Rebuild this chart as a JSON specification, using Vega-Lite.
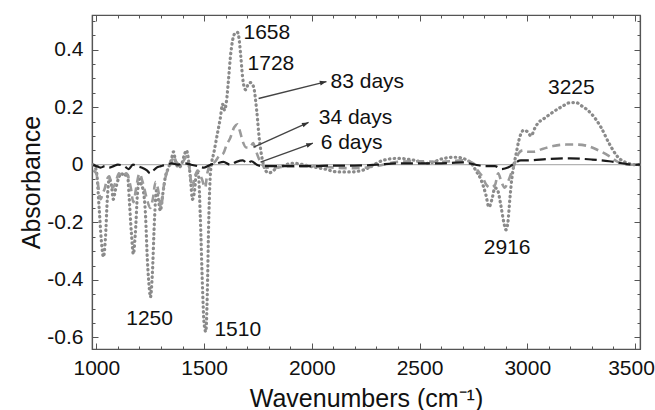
{
  "$schema": "https://vega.github.io/schema/vega-lite/v6.json",
  "width": 548,
  "height": 334,
  "autosize": {"type": "none"},
  "padding": {"left": 92, "top": 15, "right": 15, "bottom": 61},
  "background": "white",
  "config": {
    "view": {"stroke": "#555", "strokeWidth": 1.2},
    "axis": {
      "grid": false,
      "domainColor": "#555",
      "domainWidth": 1.2,
      "tickColor": "#555",
      "tickWidth": 1,
      "labelFont": "Liberation Sans",
      "labelFontSize": 21,
      "labelColor": "#111",
      "titleFont": "Liberation Sans",
      "titleFontSize": 25,
      "titleFontWeight": "normal",
      "titleColor": "#111"
    },
    "text": {"font": "Liberation Sans", "fontSize": 21, "color": "#111"}
  },
  "resolve": {"axis": {"x": "independent", "y": "independent"}},
  "datasets": {
    "spectra": [
      {"s":"83","wn":986,"a":0},{"s":"83","wn":1000,"a":-0.02},{"s":"83","wn":1014,"a":-0.16},{"s":"83","wn":1023,"a":-0.26},{"s":"83","wn":1033,"a":-0.32},{"s":"83","wn":1042,"a":-0.26},{"s":"83","wn":1051,"a":-0.12},{"s":"83","wn":1060,"a":-0.05},{"s":"83","wn":1070,"a":-0.07},{"s":"83","wn":1079,"a":-0.12},{"s":"83","wn":1088,"a":-0.09},{"s":"83","wn":1102,"a":-0.05},{"s":"83","wn":1116,"a":-0.03},{"s":"83","wn":1130,"a":-0.04},{"s":"83","wn":1144,"a":-0.03},{"s":"83","wn":1153,"a":-0.12},{"s":"83","wn":1163,"a":-0.24},{"s":"83","wn":1172,"a":-0.31},{"s":"83","wn":1181,"a":-0.24},{"s":"83","wn":1191,"a":-0.10},{"s":"83","wn":1200,"a":-0.05},{"s":"83","wn":1209,"a":-0.07},{"s":"83","wn":1218,"a":-0.09},{"s":"83","wn":1228,"a":-0.17},{"s":"83","wn":1237,"a":-0.33},{"s":"83","wn":1246,"a":-0.43},{"s":"83","wn":1251,"a":-0.46},{"s":"83","wn":1260,"a":-0.38},{"s":"83","wn":1270,"a":-0.19},{"s":"83","wn":1279,"a":-0.09},{"s":"83","wn":1288,"a":-0.12},{"s":"83","wn":1297,"a":-0.16},{"s":"83","wn":1307,"a":-0.11},{"s":"83","wn":1321,"a":-0.04},{"s":"83","wn":1335,"a":-0.01},{"s":"83","wn":1349,"a":0.02},{"s":"83","wn":1358,"a":0.045},{"s":"83","wn":1367,"a":0.015},{"s":"83","wn":1381,"a":-0.01},{"s":"83","wn":1395,"a":0},{"s":"83","wn":1409,"a":0.035},{"s":"83","wn":1418,"a":0.05},{"s":"83","wn":1428,"a":0.015},{"s":"83","wn":1437,"a":-0.05},{"s":"83","wn":1446,"a":-0.12},{"s":"83","wn":1456,"a":-0.09},{"s":"83","wn":1465,"a":-0.025},{"s":"83","wn":1474,"a":-0.035},{"s":"83","wn":1483,"a":-0.19},{"s":"83","wn":1493,"a":-0.43},{"s":"83","wn":1500,"a":-0.55},{"s":"83","wn":1508,"a":-0.58},{"s":"83","wn":1515,"a":-0.45},{"s":"83","wn":1521,"a":-0.22},{"s":"83","wn":1528,"a":-0.05},{"s":"83","wn":1536,"a":0.01},{"s":"83","wn":1545,"a":0.04},{"s":"83","wn":1555,"a":0.08},{"s":"83","wn":1565,"a":0.12},{"s":"83","wn":1575,"a":0.16},{"s":"83","wn":1586,"a":0.21},{"s":"83","wn":1595,"a":0.19},{"s":"83","wn":1604,"a":0.22},{"s":"83","wn":1614,"a":0.30},{"s":"83","wn":1623,"a":0.38},{"s":"83","wn":1632,"a":0.43},{"s":"83","wn":1642,"a":0.455},{"s":"83","wn":1655,"a":0.46},{"s":"83","wn":1662,"a":0.44},{"s":"83","wn":1670,"a":0.38},{"s":"83","wn":1678,"a":0.31},{"s":"83","wn":1686,"a":0.27},{"s":"83","wn":1694,"a":0.26},{"s":"83","wn":1702,"a":0.275},{"s":"83","wn":1716,"a":0.285},{"s":"83","wn":1730,"a":0.27},{"s":"83","wn":1744,"a":0.19},{"s":"83","wn":1757,"a":0.085},{"s":"83","wn":1771,"a":0.016},{"s":"83","wn":1785,"a":-0.02},{"s":"83","wn":1800,"a":-0.028},{"s":"83","wn":1815,"a":-0.025},{"s":"83","wn":1835,"a":-0.012},{"s":"83","wn":1860,"a":-0.005},{"s":"83","wn":1915,"a":0.005},{"s":"83","wn":2008,"a":-0.008},{"s":"83","wn":2060,"a":-0.015},{"s":"83","wn":2120,"a":-0.025},{"s":"83","wn":2180,"a":-0.025},{"s":"83","wn":2241,"a":-0.018},{"s":"83","wn":2287,"a":0.0},{"s":"83","wn":2334,"a":0.016},{"s":"83","wn":2399,"a":0.022},{"s":"83","wn":2473,"a":0.016},{"s":"83","wn":2538,"a":0.005},{"s":"83","wn":2612,"a":0.022},{"s":"83","wn":2668,"a":0.026},{"s":"83","wn":2724,"a":0.015},{"s":"83","wn":2745,"a":0.0},{"s":"83","wn":2761,"a":-0.02},{"s":"83","wn":2784,"a":-0.05},{"s":"83","wn":2808,"a":-0.105},{"s":"83","wn":2822,"a":-0.147},{"s":"83","wn":2836,"a":-0.12},{"s":"83","wn":2850,"a":-0.08},{"s":"83","wn":2863,"a":-0.09},{"s":"83","wn":2877,"a":-0.14},{"s":"83","wn":2891,"a":-0.2},{"s":"83","wn":2901,"a":-0.226},{"s":"83","wn":2910,"a":-0.2},{"s":"83","wn":2919,"a":-0.12},{"s":"83","wn":2928,"a":-0.05},{"s":"83","wn":2938,"a":0},{"s":"83","wn":2947,"a":0.033},{"s":"83","wn":2961,"a":0.085},{"s":"83","wn":2984,"a":0.12},{"s":"83","wn":3003,"a":0.113},{"s":"83","wn":3017,"a":0.10},{"s":"83","wn":3035,"a":0.127},{"s":"83","wn":3049,"a":0.144},{"s":"83","wn":3077,"a":0.16},{"s":"83","wn":3110,"a":0.178},{"s":"83","wn":3156,"a":0.2},{"s":"83","wn":3203,"a":0.216},{"s":"83","wn":3226,"a":0.216},{"s":"83","wn":3249,"a":0.206},{"s":"83","wn":3296,"a":0.178},{"s":"83","wn":3342,"a":0.13},{"s":"83","wn":3379,"a":0.075},{"s":"83","wn":3421,"a":0.026},{"s":"83","wn":3468,"a":0.005},{"s":"83","wn":3495,"a":0},{"s":"83","wn":3523,"a":0},
      {"s":"34","wn":986,"a":-0.02},{"s":"34","wn":1000,"a":-0.03},{"s":"34","wn":1010,"a":-0.08},{"s":"34","wn":1020,"a":-0.12},{"s":"34","wn":1030,"a":-0.10},{"s":"34","wn":1040,"a":-0.08},{"s":"34","wn":1050,"a":-0.05},{"s":"34","wn":1060,"a":-0.04},{"s":"34","wn":1075,"a":-0.08},{"s":"34","wn":1090,"a":-0.06},{"s":"34","wn":1105,"a":-0.03},{"s":"34","wn":1120,"a":-0.04},{"s":"34","wn":1140,"a":-0.03},{"s":"34","wn":1160,"a":-0.08},{"s":"34","wn":1172,"a":-0.13},{"s":"34","wn":1185,"a":-0.08},{"s":"34","wn":1200,"a":-0.03},{"s":"34","wn":1215,"a":-0.06},{"s":"34","wn":1235,"a":-0.12},{"s":"34","wn":1250,"a":-0.15},{"s":"34","wn":1262,"a":-0.12},{"s":"34","wn":1275,"a":-0.06},{"s":"34","wn":1290,"a":-0.1},{"s":"34","wn":1300,"a":-0.15},{"s":"34","wn":1312,"a":-0.08},{"s":"34","wn":1330,"a":-0.02},{"s":"34","wn":1350,"a":0.01},{"s":"34","wn":1360,"a":0.03},{"s":"34","wn":1370,"a":0.01},{"s":"34","wn":1390,"a":0},{"s":"34","wn":1410,"a":0.02},{"s":"34","wn":1420,"a":0.03},{"s":"34","wn":1430,"a":0.0},{"s":"34","wn":1445,"a":-0.08},{"s":"34","wn":1455,"a":-0.05},{"s":"34","wn":1470,"a":-0.02},{"s":"34","wn":1490,"a":-0.05},{"s":"34","wn":1505,"a":-0.08},{"s":"34","wn":1515,"a":-0.03},{"s":"34","wn":1530,"a":0.0},{"s":"34","wn":1550,"a":0.01},{"s":"34","wn":1570,"a":0.03},{"s":"34","wn":1590,"a":0.04},{"s":"34","wn":1605,"a":0.07},{"s":"34","wn":1620,"a":0.09},{"s":"34","wn":1640,"a":0.13},{"s":"34","wn":1655,"a":0.14},{"s":"34","wn":1665,"a":0.12},{"s":"34","wn":1680,"a":0.08},{"s":"34","wn":1695,"a":0.06},{"s":"34","wn":1712,"a":0.06},{"s":"34","wn":1728,"a":0.075},{"s":"34","wn":1740,"a":0.05},{"s":"34","wn":1755,"a":0.02},{"s":"34","wn":1770,"a":0.0},{"s":"34","wn":1790,"a":-0.01},{"s":"34","wn":1820,"a":-0.01},{"s":"34","wn":1900,"a":-0.005},{"s":"34","wn":2000,"a":-0.005},{"s":"34","wn":2100,"a":-0.01},{"s":"34","wn":2200,"a":-0.012},{"s":"34","wn":2300,"a":-0.005},{"s":"34","wn":2400,"a":0.01},{"s":"34","wn":2500,"a":0.012},{"s":"34","wn":2600,"a":0.01},{"s":"34","wn":2700,"a":0.015},{"s":"34","wn":2750,"a":0.005},{"s":"34","wn":2770,"a":-0.02},{"s":"34","wn":2790,"a":-0.04},{"s":"34","wn":2810,"a":-0.07},{"s":"34","wn":2830,"a":-0.08},{"s":"34","wn":2850,"a":-0.07},{"s":"34","wn":2865,"a":-0.03},{"s":"34","wn":2880,"a":-0.06},{"s":"34","wn":2895,"a":-0.08},{"s":"34","wn":2910,"a":-0.06},{"s":"34","wn":2925,"a":-0.03},{"s":"34","wn":2945,"a":0.01},{"s":"34","wn":2960,"a":0.04},{"s":"34","wn":2980,"a":0.05},{"s":"34","wn":3000,"a":0.045},{"s":"34","wn":3030,"a":0.045},{"s":"34","wn":3070,"a":0.055},{"s":"34","wn":3120,"a":0.065},{"s":"34","wn":3180,"a":0.07},{"s":"34","wn":3230,"a":0.07},{"s":"34","wn":3280,"a":0.065},{"s":"34","wn":3330,"a":0.05},{"s":"34","wn":3380,"a":0.03},{"s":"34","wn":3420,"a":0.01},{"s":"34","wn":3460,"a":0.0},{"s":"34","wn":3500,"a":0},{"s":"34","wn":3523,"a":0},
      {"s":"6","wn":986,"a":0},{"s":"6","wn":1000,"a":-0.005},{"s":"6","wn":1020,"a":-0.01},{"s":"6","wn":1040,"a":-0.005},{"s":"6","wn":1060,"a":-0.01},{"s":"6","wn":1080,"a":-0.005},{"s":"6","wn":1100,"a":0},{"s":"6","wn":1130,"a":-0.005},{"s":"6","wn":1150,"a":-0.015},{"s":"6","wn":1170,"a":0.0},{"s":"6","wn":1190,"a":-0.005},{"s":"6","wn":1210,"a":-0.01},{"s":"6","wn":1235,"a":-0.02},{"s":"6","wn":1250,"a":-0.03},{"s":"6","wn":1265,"a":-0.02},{"s":"6","wn":1280,"a":-0.01},{"s":"6","wn":1300,"a":-0.005},{"s":"6","wn":1320,"a":0},{"s":"6","wn":1350,"a":0.005},{"s":"6","wn":1380,"a":0},{"s":"6","wn":1410,"a":0.005},{"s":"6","wn":1440,"a":0},{"s":"6","wn":1470,"a":-0.005},{"s":"6","wn":1500,"a":-0.01},{"s":"6","wn":1530,"a":0},{"s":"6","wn":1560,"a":0.005},{"s":"6","wn":1590,"a":0.01},{"s":"6","wn":1620,"a":0.0},{"s":"6","wn":1650,"a":0.01},{"s":"6","wn":1680,"a":0.015},{"s":"6","wn":1700,"a":0.005},{"s":"6","wn":1720,"a":0.012},{"s":"6","wn":1745,"a":0.0},{"s":"6","wn":1770,"a":-0.005},{"s":"6","wn":1800,"a":-0.005},{"s":"6","wn":1900,"a":-0.005},{"s":"6","wn":2000,"a":-0.005},{"s":"6","wn":2100,"a":-0.003},{"s":"6","wn":2200,"a":-0.003},{"s":"6","wn":2300,"a":0},{"s":"6","wn":2400,"a":0.005},{"s":"6","wn":2500,"a":0.005},{"s":"6","wn":2600,"a":0.005},{"s":"6","wn":2700,"a":0.008},{"s":"6","wn":2760,"a":0.0},{"s":"6","wn":2800,"a":-0.005},{"s":"6","wn":2850,"a":-0.005},{"s":"6","wn":2880,"a":-0.015},{"s":"6","wn":2910,"a":-0.01},{"s":"6","wn":2940,"a":0.005},{"s":"6","wn":2970,"a":0.015},{"s":"6","wn":3000,"a":0.015},{"s":"6","wn":3100,"a":0.02},{"s":"6","wn":3200,"a":0.022},{"s":"6","wn":3300,"a":0.018},{"s":"6","wn":3380,"a":0.012},{"s":"6","wn":3440,"a":0.005},{"s":"6","wn":3500,"a":0},{"s":"6","wn":3523,"a":0}
    ],
    "arrows": [
      {"name":"83","x1":1753,"y1":0.23,"x2":2068,"y2":0.289},
      {"name":"34","x1":1730,"y1":0.061,"x2":1985,"y2":0.147},
      {"name":"6","x1":1762,"y1":0.009,"x2":2005,"y2":0.075}
    ],
    "labels": [
      {"t":"1658","x":1683,"y":0.459},
      {"t":"1728","x":1702,"y":0.351},
      {"t":"83 days","x":2087,"y":0.289},
      {"t":"34 days","x":2032,"y":0.161},
      {"t":"6 days","x":2041,"y":0.075},
      {"t":"3225","x":3096,"y":0.265},
      {"t":"2916","x":2798,"y":-0.289},
      {"t":"1250","x":1139,"y":-0.535},
      {"t":"1510","x":1548,"y":-0.573}
    ],
    "zero": [{"z": 0}]
  },
  "layer": [
    {
      "data": {"name": "zero"},
      "mark": {"type": "rule", "color": "#b3b3b3", "strokeWidth": 1.2},
      "encoding": {
        "y": {"field": "z", "type": "quantitative", "scale": {"domain": [-0.64, 0.52], "nice": false, "zero": false}, "axis": null}
      }
    },
    {
      "data": {"name": "spectra"},
      "transform": [{"filter": "datum.s === '83'"}],
      "mark": {"type": "line", "color": "#8a8a8a", "strokeWidth": 3.2, "strokeDash": [0.5, 4.3], "strokeCap": "round", "interpolate": "monotone"},
      "encoding": {
        "x": {"field": "wn", "type": "quantitative", "scale": {"domain": [980, 3523], "nice": false, "zero": false},
              "axis": {"orient": "bottom", "values": [1000, 1500, 2000, 2500, 3000, 3500], "labelExpr": "toString(datum.value)", "tickSize": -6, "labelPadding": 14, "labelOffset": {"condition": {"test": "datum.value === 3500", "value": -4}, "value": 0}, "title": "Wavenumbers (cm⁻¹)", "titlePadding": 8, "labelFlush": false}},
        "y": {"field": "a", "type": "quantitative", "scale": {"domain": [-0.64, 0.52], "nice": false, "zero": false},
              "axis": {"orient": "left", "values": [-0.6, -0.4, -0.2, 0, 0.2, 0.4], "labelExpr": "toString(datum.value)", "tickSize": -6, "labelPadding": 15, "title": "Absorbance", "titlePadding": 2, "labelFlush": false}}
      }
    },
    {
      "data": {"name": "spectra"},
      "transform": [{"filter": "datum.s === '34'"}],
      "mark": {"type": "line", "color": "#9a9a9a", "strokeWidth": 2.6, "strokeDash": [8, 5], "interpolate": "monotone"},
      "encoding": {
        "x": {"field": "wn", "type": "quantitative", "scale": {"domain": [980, 3523], "nice": false, "zero": false},
              "axis": {"orient": "bottom", "values": [1000,1100,1200,1300,1400,1500,1600,1700,1800,1900,2000,2100,2200,2300,2400,2500,2600,2700,2800,2900,3000,3100,3200,3300,3400,3500], "tickSize": -3, "labels": false, "domain": false, "title": null}},
        "y": {"field": "a", "type": "quantitative", "scale": {"domain": [-0.64, 0.52], "nice": false, "zero": false},
              "axis": {"orient": "left", "values": [-0.6,-0.55,-0.5,-0.45,-0.4,-0.35,-0.3,-0.25,-0.2,-0.15,-0.1,-0.05,0,0.05,0.1,0.15,0.2,0.25,0.3,0.35,0.4,0.45,0.5], "tickSize": -3, "labels": false, "domain": false, "title": null}}
      }
    },
    {
      "data": {"name": "spectra"},
      "transform": [{"filter": "datum.s === '6'"}],
      "mark": {"type": "line", "color": "#1a1a1a", "strokeWidth": 2.2, "strokeDash": [12, 5], "interpolate": "monotone"},
      "encoding": {
        "x": {"field": "wn", "type": "quantitative", "scale": {"domain": [980, 3523], "nice": false, "zero": false},
              "axis": {"orient": "top", "values": [1000, 1500, 2000, 2500, 3000, 3500], "tickSize": -6, "labels": false, "title": null}},
        "y": {"field": "a", "type": "quantitative", "scale": {"domain": [-0.64, 0.52], "nice": false, "zero": false},
              "axis": {"orient": "right", "values": [-0.6, -0.4, -0.2, 0, 0.2, 0.4], "tickSize": -6, "labels": false, "title": null}}
      }
    },
    {
      "data": {"name": "arrows"},
      "mark": {"type": "rule", "color": "#444", "strokeWidth": 1.3},
      "encoding": {
        "x": {"field": "x1", "type": "quantitative", "scale": {"domain": [980, 3523], "nice": false, "zero": false},
              "axis": {"orient": "top", "values": [1000,1100,1200,1300,1400,1500,1600,1700,1800,1900,2000,2100,2200,2300,2400,2500,2600,2700,2800,2900,3000,3100,3200,3300,3400,3500], "tickSize": -3, "labels": false, "domain": false, "title": null}},
        "y": {"field": "y1", "type": "quantitative", "scale": {"domain": [-0.64, 0.52], "nice": false, "zero": false},
              "axis": {"orient": "right", "values": [-0.6,-0.55,-0.5,-0.45,-0.4,-0.35,-0.3,-0.25,-0.2,-0.15,-0.1,-0.05,0,0.05,0.1,0.15,0.2,0.25,0.3,0.35,0.4,0.45,0.5], "tickSize": -3, "labels": false, "domain": false, "title": null}},
        "x2": {"field": "x2"},
        "y2": {"field": "y2"}
      }
    },
    {
      "data": {"name": "arrows"},
      "transform": [{"filter": "datum.name === '83'"}],
      "mark": {"type": "point", "shape": "M0,0L-2.2,-0.8L-2.2,0.8Z", "filled": true, "color": "#333", "opacity": 1, "size": 36, "angle": 346},
      "encoding": {
        "x": {"field": "x2", "type": "quantitative", "scale": {"domain": [980, 3523], "nice": false, "zero": false}, "axis": null},
        "y": {"field": "y2", "type": "quantitative", "scale": {"domain": [-0.64, 0.52], "nice": false, "zero": false}, "axis": null}
      }
    },
    {
      "data": {"name": "arrows"},
      "transform": [{"filter": "datum.name === '34'"}],
      "mark": {"type": "point", "shape": "M0,0L-2.2,-0.8L-2.2,0.8Z", "filled": true, "color": "#333", "opacity": 1, "size": 36, "angle": 336},
      "encoding": {
        "x": {"field": "x2", "type": "quantitative", "scale": {"domain": [980, 3523], "nice": false, "zero": false}, "axis": null},
        "y": {"field": "y2", "type": "quantitative", "scale": {"domain": [-0.64, 0.52], "nice": false, "zero": false}, "axis": null}
      }
    },
    {
      "data": {"name": "arrows"},
      "transform": [{"filter": "datum.name === '6'"}],
      "mark": {"type": "point", "shape": "M0,0L-2.2,-0.8L-2.2,0.8Z", "filled": true, "color": "#333", "opacity": 1, "size": 36, "angle": 340},
      "encoding": {
        "x": {"field": "x2", "type": "quantitative", "scale": {"domain": [980, 3523], "nice": false, "zero": false}, "axis": null},
        "y": {"field": "y2", "type": "quantitative", "scale": {"domain": [-0.64, 0.52], "nice": false, "zero": false}, "axis": null}
      }
    },
    {
      "data": {"name": "labels"},
      "mark": {"type": "text", "align": "left", "baseline": "middle"},
      "encoding": {
        "x": {"field": "x", "type": "quantitative", "scale": {"domain": [980, 3523], "nice": false, "zero": false}, "axis": null},
        "y": {"field": "y", "type": "quantitative", "scale": {"domain": [-0.64, 0.52], "nice": false, "zero": false}, "axis": null},
        "text": {"field": "t"}
      }
    }
  ]
}
